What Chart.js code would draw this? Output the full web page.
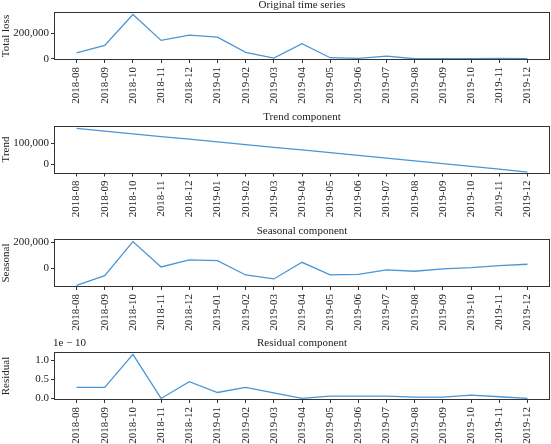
<!DOCTYPE html>
<html><head><meta charset="utf-8">
<script src="https://cdn.jsdelivr.net/npm/chart.js@4.4.1/dist/chart.umd.min.js"></script>
<style>
html,body{margin:0;padding:0;background:#fff;}
#wrap{position:relative;width:551px;height:444px;overflow:hidden;background:#fff;}
canvas{position:absolute;left:0;}
</style></head><body>
<div id="wrap">
<canvas id="c0" width="551" height="111" style="top:0px"></canvas>
<canvas id="c1" width="551" height="111" style="top:111px"></canvas>
<canvas id="c2" width="551" height="111" style="top:222px"></canvas>
<canvas id="c3" width="551" height="111" style="top:333px"></canvas>
</div>
<script>
// ---- data ----
const months = ['2018-08','2018-09','2018-10','2018-11','2018-12','2019-01','2019-02','2019-03','2019-04','2019-05','2019-06','2019-07','2019-08','2019-09','2019-10','2019-11','2019-12'];
const totalLoss = [47000,105000,350000,145000,187000,171000,50000,5500,119000,8000,2500,21000,0,0,0,2500,0];
const trend = [171000,158000,145000,132000,119500,106500,93500,80500,68000,55000,42000,29000,16000,3000,-10000,-23000,-37000];
const seasonal = [-131000,-57000,205000,10000,64000,58500,-51500,-82000,46000,-51500,-46500,-13000,-23000,-5000,5000,20000,31000];
const residual = [0.29,0.29,1.15,0.0,0.435,0.155,0.29,0.145,0.0,0.06,0.06,0.06,0.035,0.035,0.085,0.045,0.0]; // x 1e-10
const ticksLoss = [0, 200000];
const ticksTrend = [0, 100000];
const ticksSeasonal = [0, 200000];
const ticksResidual = [0, 0.5, 1.0];
const titles = ['Original time series','Trend component','Seasonal component','Residual component'];
const yTitles = ['Total loss','Trend','Seasonal','Residual'];
const residualOffsetText = '1e \u2212 10';

// ---- layout / style ----
const FONT = 'Liberation Serif';
const TEXT = '#222';
const FRAME = '#333';
const LINE = '#4896d6';
Chart.defaults.font.family = FONT;
Chart.defaults.font.size = 11;
Chart.defaults.color = TEXT;

const panels = [
  {series: totalLoss, ticks: ticksLoss, min: -10000, max: 370000, padTop: 12, plotBottom: 60, titleY: 5.5, fmt: v => v.toLocaleString('en-US')},
  {series: trend, ticks: ticksTrend, min: -44000, max: 184500, padTop: 14.5, plotBottom: 62.5, titleY: 6.5, fmt: v => v.toLocaleString('en-US')},
  {series: seasonal, ticks: ticksSeasonal, min: -144000, max: 225000, padTop: 17, plotBottom: 65, titleY: 9, fmt: v => v.toLocaleString('en-US')},
  {series: residual, ticks: ticksResidual, min: -0.04, max: 1.21, padTop: 19, plotBottom: 67, titleY: 10.5, fmt: v => v.toFixed(1), offsetText: residualOffsetText}
];

panels.forEach((p, i) => {
  const canvas = document.getElementById('c' + i);
  const H = canvas.height;
  const framePlugin = {
    id: 'frame' + i,
    afterDraw(chart) {
      const {ctx, chartArea: a} = chart;
      ctx.save();
      ctx.strokeStyle = FRAME;
      ctx.lineWidth = 1;
      const l = Math.round(a.left) + 0.5, t = Math.round(a.top) + 0.5;
      const r = Math.round(a.right) - 0.5, b = Math.round(a.bottom) - 0.5;
      ctx.strokeRect(l, t, r - l, b - t);
      ctx.fillStyle = TEXT;
      ctx.font = '11px "' + FONT + '"';
      ctx.textBaseline = 'middle';
      ctx.textAlign = 'center';
      ctx.fillText(titles[i], (a.left + a.right) / 2, p.titleY);
      if (p.offsetText) {
        ctx.textAlign = 'left';
        ctx.fillText(p.offsetText, a.left - 1, p.titleY);
      }
      ctx.restore();
    }
  };
  new Chart(canvas, {
    type: 'line',
    data: {
      datasets: [{
        data: p.series.map((v, k) => ({x: k, y: v})),
        borderColor: LINE,
        borderWidth: 1.3,
        pointRadius: 0,
        tension: 0,
        fill: false
      }]
    },
    options: {
      responsive: false,
      animation: false,
      devicePixelRatio: 1,
      layout: {padding: {top: p.padTop, left: 0, right: 1, bottom: 0}},
      plugins: {legend: {display: false}, title: {display: false}, tooltip: {enabled: false}},
      scales: {
        x: {
          type: 'linear',
          min: -0.8,
          max: 16.8,
          afterBuildTicks: s => { s.ticks = months.map((m, k) => ({value: k})); },
          afterFit: s => { s.height = H - p.plotBottom; },
          grid: {display: true, drawOnChartArea: false, drawTicks: true, tickLength: 3, color: FRAME, lineWidth: 1},
          border: {display: false},
          ticks: {
            autoSkip: false,
            minRotation: 90,
            maxRotation: 90,
            padding: 4,
            color: TEXT,
            font: {family: FONT, size: 11},
            callback: v => months[v]
          }
        },
        y: {
          type: 'linear',
          min: p.min,
          max: p.max,
          afterBuildTicks: s => { s.ticks = p.ticks.map(v => ({value: v})); },
          afterFit: s => { s.width = 54; },
          grid: {display: true, drawOnChartArea: false, drawTicks: true, tickLength: 3, color: FRAME, lineWidth: 1},
          border: {display: false},
          title: {display: true, text: yTitles[i], color: TEXT, font: {family: FONT, size: 11, lineHeight: 1.1}, padding: {top: 0, bottom: 0}},
          ticks: {padding: 2, color: TEXT, font: {family: FONT, size: 11}, callback: v => p.fmt(v)}
        }
      }
    },
    plugins: [framePlugin]
  });
});
</script>
</body></html>
